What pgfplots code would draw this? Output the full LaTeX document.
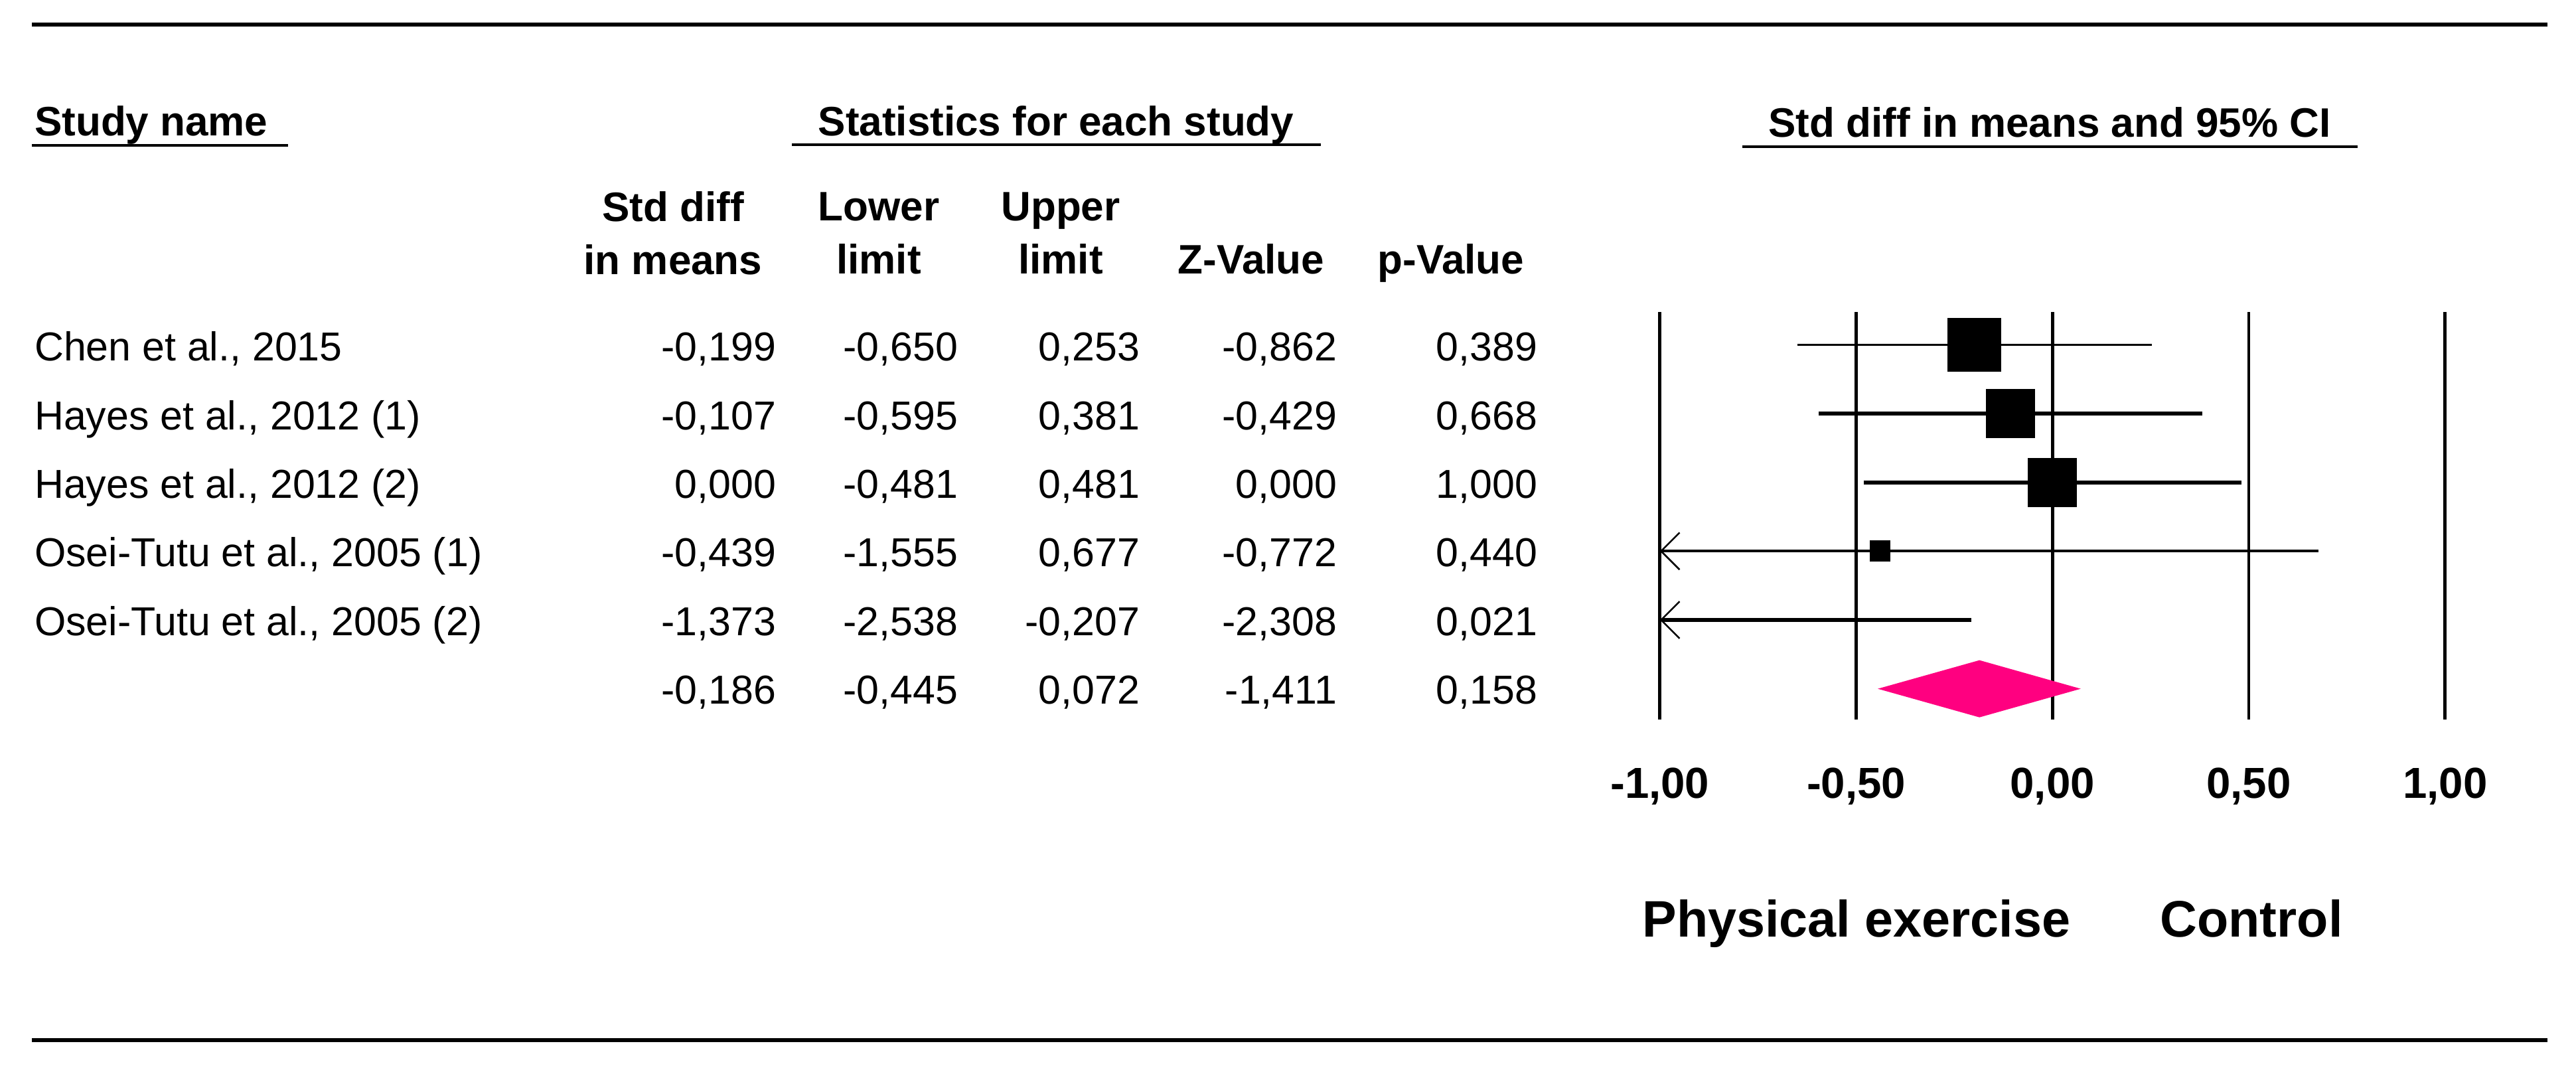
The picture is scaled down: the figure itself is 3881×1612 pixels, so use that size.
\documentclass[border=0pt]{standalone}
\usepackage{fontspec}
\setmainfont{Liberation Sans}
\usepackage{pgfplots}
\pgfplotsset{compat=1.18}
\usetikzlibrary{arrows.meta}
\definecolor{sumpink}{RGB}{255,0,128}

\tikzset{
  tb/.style={inner sep=0pt, font=\fontsize{10.7}{13}\selectfont},
  th/.style={inner sep=0pt, font=\bfseries\fontsize{10.9}{13}\selectfont},
}
% one table row: baseline, name, std diff, lower, upper, Z, p
\newcommand\studyrow[7]{%
  \node[tb,anchor=base west] at (51,#1) {#2};
  \node[tb,anchor=base east] at (1170,#1) {#3};
  \node[tb,anchor=base east] at (1444,#1) {#4};
  \node[tb,anchor=base east] at (1718,#1) {#5};
  \node[tb,anchor=base east] at (2015,#1) {#6};
  \node[tb,anchor=base east] at (2317,#1) {#7};
}

\begin{document}
\begin{tikzpicture}
% text part, coordinates in pixels of the reference (y downward)
\begin{scope}[x=0.006184cm,y=-0.006184cm]
\useasboundingbox (0,0) rectangle (3881,1612);
\draw[line width=1.2pt] (48,37) -- (3838,37);
\draw[line width=1.2pt] (48,1567) -- (3838,1567);

\node[th,anchor=base west] at (51,205) {Study name};
\draw[line width=0.6pt] (48,219) -- (434,219);
\node[th,anchor=base] at (1591,205) {Statistics for each study};
\draw[line width=0.6pt] (1193,218) -- (1990,218);
\node[th,anchor=base] at (3088,207) {Std diff in means and 95\% CI};
\draw[line width=0.6pt] (2625,221) -- (3552,221);

\node[th,anchor=base] at (1014,334) {Std diff};
\node[th,anchor=base] at (1014,414) {in means};
\node[th,anchor=base] at (1324,333) {Lower};
\node[th,anchor=base] at (1324,413) {limit};
\node[th,anchor=base] at (1598,333) {Upper};
\node[th,anchor=base] at (1598,413) {limit};
\node[th,anchor=base] at (1885,413) {Z-Value};
\node[th,anchor=base] at (2186,413) {p-Value};

\studyrow{544}{Chen et al., 2015}{-0,199}{-0,650}{0,253}{-0,862}{0,389}
\studyrow{648}{Hayes et al., 2012 (1)}{-0,107}{-0,595}{0,381}{-0,429}{0,668}
\studyrow{751}{Hayes et al., 2012 (2)}{0,000}{-0,481}{0,481}{0,000}{1,000}
\studyrow{854}{Osei-Tutu et al., 2005 (1)}{-0,439}{-1,555}{0,677}{-0,772}{0,440}
\studyrow{958}{Osei-Tutu et al., 2005 (2)}{-1,373}{-2,538}{-0,207}{-2,308}{0,021}
\studyrow{1061}{}{-0,186}{-0,445}{0,072}{-1,411}{0,158}

\node[inner sep=0pt,anchor=base,font=\bfseries\fontsize{13.6}{16}\selectfont] at (2797,1412) {Physical exercise};
\node[inner sep=0pt,anchor=base,font=\bfseries\fontsize{13.6}{16}\selectfont] at (3392,1412) {Control};
\end{scope}

\begin{axis}[
  at={(15.454cm,-6.697cm)}, anchor=south west,
  scale only axis, width=7.310cm, height=3.791cm,
  xmin=-1, xmax=1, ymin=-6.444, ymax=-0.527,
  clip=false,
  axis line style={draw=none},
  major tick length=0pt,
  ytick=\empty,
  xtick={-1,-0.5,0,0.5,1},
  xmajorgrids,
  grid style={black, line width=0.85pt},
  xticklabel style={inner sep=0pt, anchor=base, yshift=-20.9pt,
    font=\bfseries\fontsize{11.5}{13}\selectfont,
    /pgf/number format/fixed, /pgf/number format/fixed zerofill,
    /pgf/number format/precision=2, /pgf/number format/use comma,
    /pgf/number format/assume math mode=true},
]
% confidence intervals
\addplot[black, line width=0.6pt] coordinates {(-0.650,-1) (0.253,-1)};
\addplot[black, line width=1.05pt] coordinates {(-0.595,-2) (0.381,-2)};
\addplot[black, line width=1.05pt] coordinates {(-0.481,-3) (0.481,-3)};
\addplot[black, line width=0.75pt, {Straight Barb[length=4.9pt,width=9.8pt,line width=0.45pt]}-] coordinates {(-1,-4) (0.677,-4)};
\addplot[black, line width=1.05pt, {Straight Barb[length=4.9pt,width=9.8pt,line width=0.45pt]}-] coordinates {(-1,-5) (-0.207,-5)};
% point estimates
\addplot[only marks, mark=square*, mark size=7pt, black, mark options={line width=0pt}] coordinates {(-0.199,-1)};
\addplot[only marks, mark=square*, mark size=6.4pt, black, mark options={line width=0pt}] coordinates {(-0.107,-2)};
\addplot[only marks, mark=square*, mark size=6.4pt, black, mark options={line width=0pt}] coordinates {(0.000,-3)};
\addplot[only marks, mark=square*, mark size=2.7pt, black, mark options={line width=0pt}] coordinates {(-0.439,-4)};
% summary
\addplot[fill=sumpink, draw=none] coordinates {(-0.445,-6) (-0.186,-5.585) (0.072,-6) (-0.186,-6.415)} -- cycle;
\end{axis}
\end{tikzpicture}
\end{document}
